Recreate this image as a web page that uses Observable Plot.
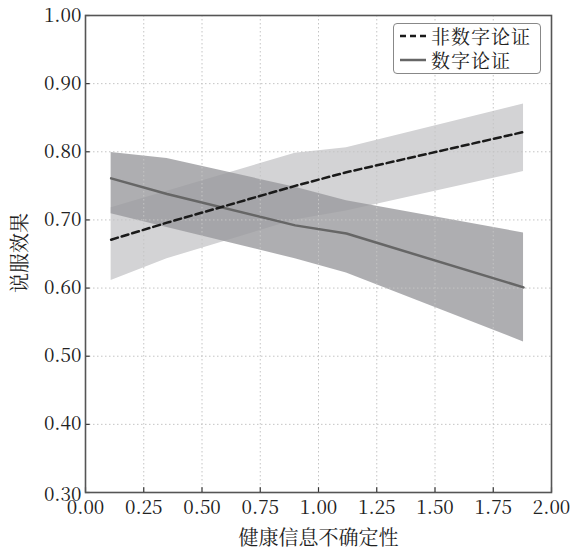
<!DOCTYPE html>
<html>
<head>
<meta charset="utf-8">
<script src="https://cdn.jsdelivr.net/npm/d3@7"></script>
<script src="https://cdn.jsdelivr.net/npm/@observablehq/plot@0.6"></script>
<style>
  html, body { margin: 0; padding: 0; background: #fff; }
  #wrap { position: relative; width: 570px; height: 549px; }
  #legend {
    position: absolute; left: 393px; top: 23px; width: 148px; height: 51px;
    border: 1px solid #888; border-radius: 4px; background: #fff;
    font-family: "Noto Serif CJK SC", "Noto Sans CJK SC", serif; font-size: 19px; color: #222;
    box-sizing: border-box;
  }
  .row { position: absolute; left: 6px; height: 20px; display: flex; align-items: center; }
  .row span { display: inline-block; line-height: 20px; letter-spacing: 1px; }
  .row svg { margin-right: 5px; }
</style>
</head>
<body>
<div id="wrap">
  <div id="chart"></div>
  <div id="legend"></div>
</div>
<script>
// ---- data ----
const seriesNames = ["非数字论证", "数字论证"];
const xVals = [0.11, 0.35, 0.90, 1.12, 1.88];
const nonNumMean = [0.671, 0.696, 0.750, 0.770, 0.829];
const nonNumLow  = [0.611, 0.643, 0.700, 0.713, 0.771];
const nonNumHigh = [0.718, 0.742, 0.798, 0.806, 0.870];
const numMean = [0.761, 0.738, 0.692, 0.680, 0.601];
const numLow  = [0.709, 0.689, 0.643, 0.622, 0.521];
const numHigh = [0.799, 0.790, 0.748, 0.728, 0.681];
const xTicks = [0, 0.25, 0.5, 0.75, 1.0, 1.25, 1.5, 1.75, 2.0];
const yTicks = [0.3, 0.4, 0.5, 0.6, 0.7, 0.8, 0.9, 1.0];
const xLabel = "健康信息不确定性";
const yLabel = "说服效果";

const nonNum = xVals.map((x, i) => ({x, m: nonNumMean[i], lo: nonNumLow[i], hi: nonNumHigh[i]}));
const num = xVals.map((x, i) => ({x, m: numMean[i], lo: numLow[i], hi: numHigh[i]}));

const fmt = d3.format(".2f");
const FONT = "Noto Serif CJK SC, Noto Sans CJK SC, serif";

const chart = Plot.plot({
  width: 570, height: 549,
  marginLeft: 85, marginRight: 19, marginTop: 15, marginBottom: 57,
  style: {fontSize: "18px", color: "#222", background: "#fff", fontFamily: FONT},
  x: {domain: [0, 2]},
  y: {domain: [0.3, 1.0]},
  marks: [
    Plot.areaY(nonNum, {x: "x", y1: "lo", y2: "hi", fill: "#d3d3d5"}),
    Plot.areaY(num, {x: "x", y1: "lo", y2: "hi", fill: "#9a9a9e", fillOpacity: 0.8}),
    Plot.gridX(xTicks, {stroke: "#c4c4c4", strokeOpacity: 1, strokeDasharray: "1.5,2.5"}),
    Plot.gridY(yTicks, {stroke: "#c4c4c4", strokeOpacity: 1, strokeDasharray: "1.5,2.5"}),
    Plot.lineY(num, {x: "x", y: "m", stroke: "#666", strokeWidth: 2.5}),
    Plot.lineY(nonNum, {x: "x", y: "m", stroke: "#1a1a1a", strokeWidth: 2.5, strokeDasharray: "7,4"}),
    Plot.ruleX(xTicks, {x: d => d, y1: 0.3, y2: 0.307, stroke: "#333", strokeWidth: 1.2}),
    Plot.ruleY(yTicks, {y: d => d, x1: 0, x2: 0.02, stroke: "#333", strokeWidth: 1.2}),
    Plot.frame({stroke: "#555", strokeWidth: 1.6}),
    Plot.axisX(xTicks, {tickSize: 0, tickPadding: 8, tickFormat: fmt, fontSize: 19,
      label: xLabel, labelAnchor: "center", labelOffset: 52, labelArrow: "none"}),
    Plot.axisY(yTicks, {tickSize: 0, tickPadding: 4, tickFormat: fmt, fontSize: 19,
      label: null})
  ]
});
document.getElementById("chart").appendChild(chart);

const svg = d3.select(chart);
svg.attr("font-family", FONT);
svg.selectAll("text").each(function() {
  this.setAttribute("font-family", FONT);
  this.style.fontFamily = FONT;
});
svg.selectAll("text").filter(function() { return this.textContent === xLabel; })
  .attr("font-size", 20);
// nudge the bottom y tick label up slightly, as in the reference
svg.selectAll("[aria-label='y-axis tick label'] text")
  .filter(function() { return this.textContent === "0.30"; })
  .attr("dy", "0.12em");
svg.append("text")
  .attr("transform", "translate(22,253) rotate(-90)")
  .attr("text-anchor", "middle").attr("dominant-baseline", "middle")
  .attr("font-family", FONT).style("font-family", FONT)
  .attr("font-size", 20).attr("fill", "#222")
  .text(yLabel);

// legend
const legend = document.getElementById("legend");
const styles = [
  {stroke: "#1a1a1a", dash: "6,4"},
  {stroke: "#666", dash: null}
];
seriesNames.forEach((name, i) => {
  const row = document.createElement("div");
  row.className = "row";
  row.style.top = (2 + i * 24) + "px";
  row.innerHTML = `<svg width="26" height="10"><line x1="0" y1="5" x2="26" y2="5" stroke="${styles[i].stroke}" stroke-width="2.5" ${styles[i].dash ? `stroke-dasharray="${styles[i].dash}"` : ""}/></svg><span>${name}</span>`;
  legend.appendChild(row);
});
</script>
</body>
</html>
